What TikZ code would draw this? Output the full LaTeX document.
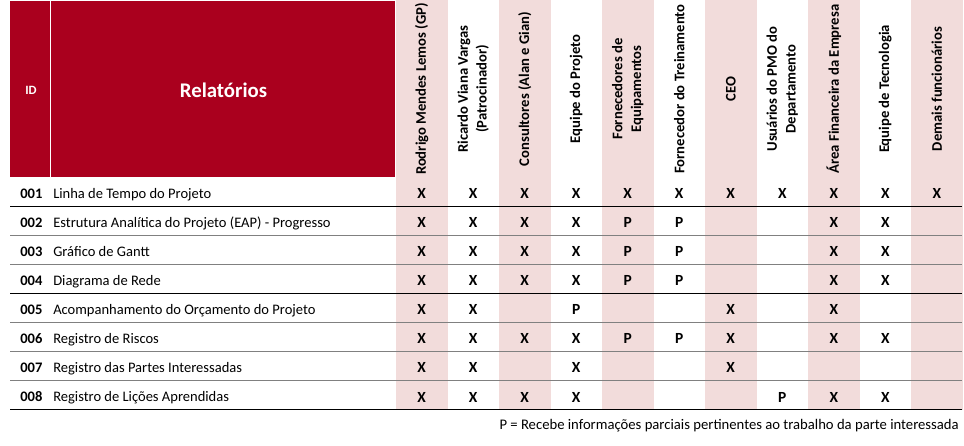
\documentclass[tikz,border=0pt]{standalone}
\usepackage{fontspec}
\setmainfont{Carlito}
\definecolor{hdrred}{HTML}{AA001E}
\definecolor{colpink}{HTML}{F2DCDB}
\definecolor{rulegray}{HTML}{808080}
\begin{document}
\begin{tikzpicture}[x=0.75pt,y=-0.75pt,
  collabel/.style={rotate=90,align=center,inner sep=0pt,font=\bfseries\fontsize{11}{14}\selectfont},
  cellmark/.style={anchor=base,inner sep=0pt,font=\bfseries\fontsize{11.6}{13}\selectfont},
  rowid/.style={anchor=base west,inner sep=0pt,font=\bfseries\fontsize{10.9}{13}\selectfont},
  rowdesc/.style={anchor=base west,inner sep=0pt,font=\fontsize{10.9}{13}\selectfont},
  darkrule/.style={draw=black,line width=0.6pt},
  lightrule/.style={draw=rulegray,line width=0.8pt}]
\useasboundingbox (0,0) rectangle (964,446);
% pink columns
\foreach \i in {0,2,4,6,8,10}{
  \fill[colpink] ({396+51.5*\i},0) rectangle ({396+51.5*(\i+1)},410);
}
% red header
\fill[hdrred] (10,1) rectangle (50,177);
\fill[hdrred] (51,1) rectangle (395,177);
\node[text=white,font=\bfseries\fontsize{9.5}{11}\selectfont,inner sep=0pt] (idhdr) at (31,90) {ID};
\node[text=white,font=\bfseries\fontsize{15.6}{18}\selectfont,inner sep=0pt] (relhdr) at (223.5,90) {Relatórios};
% column labels
\foreach \t [count=\i from 0] in {
  {Rodrigo Mendes Lemos (GP)},
  {Ricardo Viana Vargas\\(Patrocinador)},
  {Consultores (Alan e Gian)},
  {Equipe do Projeto},
  {Fornecedores de\\Equipamentos},
  {Fornecedor do Treinamento},
  {CEO},
  {Usuários do PMO do\\Departamento},
  {Área Financeira da Empresa},
  {Equipe de Tecnologia},
  {Demais funcionários}}{
  \node[collabel] (col\i) at ({421.75+51.5*\i},89) {\t};
}
% row rules
\foreach \r/\st in {1/darkrule,2/lightrule,3/lightrule,4/darkrule,5/lightrule,6/lightrule,7/lightrule,8/darkrule}{
  \path[\st] (10,{177+29.1*\r}) -- (962,{177+29.1*\r});
}
% rows
\foreach \r/\id/\d in {
  1/001/{Linha de Tempo do Projeto},
  2/002/{Estrutura Analítica do Projeto (EAP) - Progresso},
  3/003/{Gráfico de Gantt},
  4/004/{Diagrama de Rede},
  5/005/{Acompanhamento do Orçamento do Projeto},
  6/006/{Registro de Riscos},
  7/007/{Registro das Partes Interessadas},
  8/008/{Registro de Lições Aprendidas}}{
  \node[rowid] (id\r) at (20,{198+29.1*(\r-1)}) {\id};
  \node[rowdesc] (desc\r) at (53,{198+29.1*(\r-1)}) {\d};
}
% cells
\foreach \r/\vals in {
  1/{X,X,X,X,X,X,X,X,X,X,X},
  2/{X,X,X,X,P,P,o,o,X,X,o},
  3/{X,X,X,X,P,P,o,o,X,X,o},
  4/{X,X,X,X,P,P,o,o,X,X,o},
  5/{X,X,o,P,o,o,X,o,X,o,o},
  6/{X,X,X,X,P,P,X,o,X,X,o},
  7/{X,X,o,X,o,o,X,o,o,o,o},
  8/{X,X,X,X,o,o,o,P,X,X,o}}{
  \foreach \v [count=\i from 0] in \vals {
    \if\v o\else
      \node[cellmark] (c\r-\i) at ({421.75+51.5*\i},{198.3+29.1*(\r-1)}) {\v};
    \fi
  }
}
% footer
\node[anchor=base east,inner sep=0pt,font=\fontsize{11}{13}\selectfont] (legend) at (959,429)
  {P = Recebe informações parciais pertinentes ao trabalho da parte interessada};
\end{tikzpicture}
\end{document}
